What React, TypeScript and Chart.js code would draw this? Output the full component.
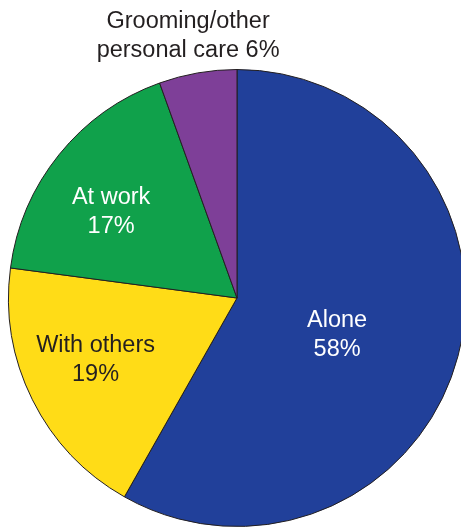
import React, { useEffect, useRef } from "react";
import { Chart, registerables } from "chart.js";

Chart.register(...registerables);

const categories = ["Alone", "With others", "At work", "Grooming/other personal care"];
const values = [58.2, 18.9, 17.4, 5.5];
const colors = ["#21409A", "#FFDC17", "#10A14B", "#7E3F98"];
const labelLines = [
  ["Alone", "58%"],
  ["With others", "19%"],
  ["At work", "17%"],
  ["Grooming/other", "personal care 6%"],
];
const labelColors = ["#FFFFFF", "#231F20", "#FFFFFF", "#231F20"];
// label block centres as fractions of the radius from the pie centre
const labelOffsets = [
  [0.438, 0.162],
  [-0.619, 0.27],
  [-0.551, -0.376],
  [-0.214, -1.146],
];

const labelPlugin = {
  id: "sliceLabels",
  afterDatasetsDraw(chart: any) {
    const meta = chart.getDatasetMeta(0);
    const ctx = chart.ctx;
    const lineH = 29;
    meta.data.forEach((arc: any, i: number) => {
      const { x, y, outerRadius } = arc.getProps(["x", "y", "outerRadius"], true);
      const cx = x + labelOffsets[i][0] * outerRadius;
      const cy = y + labelOffsets[i][1] * outerRadius;
      const lines = labelLines[i];
      ctx.save();
      ctx.font = '23.5px "Liberation Sans", Arial, sans-serif';
      ctx.fillStyle = labelColors[i];
      ctx.textAlign = "center";
      ctx.textBaseline = "middle";
      const start = cy - ((lines.length - 1) * lineH) / 2;
      lines.forEach((t, k) => ctx.fillText(t, cx, start + k * lineH));
      ctx.restore();
    });
  },
};

export default function App() {
  const ref = useRef<HTMLCanvasElement>(null);
  useEffect(() => {
    if (!ref.current) return;
    const chart = new Chart(ref.current, {
      type: "pie",
      data: {
        labels: categories,
        datasets: [
          {
            data: values,
            backgroundColor: colors,
            borderColor: "#231F20",
            borderWidth: 1,
          },
        ],
      },
      options: {
        animation: false,
        responsive: true,
        maintainAspectRatio: false,
        layout: { padding: { top: 69, left: 8, right: 8, bottom: 0 } },
        plugins: {
          legend: { display: false },
          tooltip: { enabled: false },
        },
      },
      plugins: [labelPlugin],
    });
    return () => chart.destroy();
  }, []);
  return (
    <div style={{ position: "fixed", left: 0, top: 0, width: 474, height: 527, background: "#fff" }}>
      <canvas ref={ref} />
    </div>
  );
}
